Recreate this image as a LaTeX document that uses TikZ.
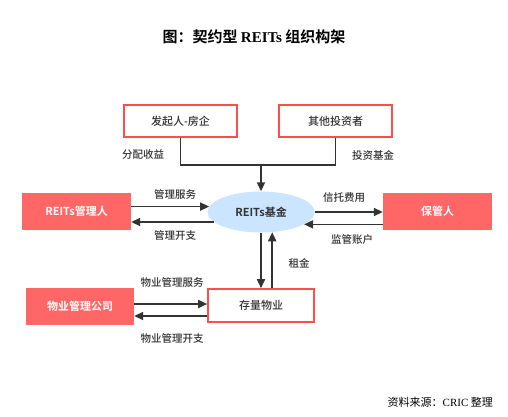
\documentclass[tikz,border=0pt]{standalone}
\usepackage{fontspec}
\setmainfont{Noto Sans CJK SC}[BoldFont={Noto Sans CJK SC Bold}]
\newfontfamily\mediumcjk{Noto Sans CJK SC Medium}
\newfontfamily\serifl{Liberation Serif}
\usetikzlibrary{arrows.meta,shapes.geometric}
\definecolor{boxline}{RGB}{255,77,77}
\definecolor{boxfill}{RGB}{255,102,102}
\definecolor{fundblue}{RGB}{204,229,255}
\definecolor{inkgray}{RGB}{51,51,51}

\tikzset{
  openbox/.style={draw=boxline, line width=1.6pt, fill=white, minimum width=113pt,
    minimum height=32pt, inner sep=0pt, text=inkgray, font=\fontsize{11}{13}\selectfont\mediumcjk},
  solidbox/.style={fill=boxfill, minimum width=109pt, minimum height=37pt, inner sep=0pt,
    text=white, font=\fontsize{11}{13}\selectfont\bfseries},
  fundnode/.style={ellipse, fill=fundblue, minimum width=107pt, minimum height=41pt,
    inner sep=0pt, text=inkgray, font=\fontsize{11}{13}\selectfont\bfseries},
  flowlabel/.style={text=inkgray, inner sep=0pt, font=\fontsize{10.5}{12}\selectfont\mediumcjk},
  flowline/.style={draw=inkgray, line width=1.7pt},
  flowarrow/.style={flowline, -{Triangle[length=9pt,width=8pt]}}
}

\begin{document}
\begin{tikzpicture}[x=1pt, y=-1pt]
  \useasboundingbox (0,0) rectangle (508,416);

  % title
  \node[inner sep=0pt, font=\fontsize{15}{17}\selectfont\bfseries] (title) at (254,37)
    {图：契约型 {\serifl\bfseries REITs} 组织构架};

  % boxes
  \node[openbox] (sponsor) at (180.5,121) {发起人-房企};
  \node[openbox] (investor) at (335.5,121) {其他投资者};
  \node[solidbox] (manager) at (76.5,211.5) {REITs管理人};
  \node[solidbox] (custodian) at (437.5,211.5) {保管人};
  \node[fundnode] (fund) at (261,212) {REITs基金};
  \node[solidbox, minimum width=108pt] (propco) at (80,306.5) {物业管理公司};
  \node[openbox, minimum width=106pt, minimum height=33pt] (asset) at (261,305.5) {存量物业};

  % investors into the fund
  \coordinate (join) at (261,165);
  \draw[flowline] (sponsor.south) |- (join);
  \draw[flowline] (investor.south) |- (join);
  \draw[flowarrow] (join) -- (fund.north);

  % manager
  \draw[flowarrow] (manager.east |- fund.174) -- (fund.174);
  \draw[flowarrow] (fund.192) -- (manager.east |- fund.192);

  % custodian
  \draw[flowarrow] (fund.east) -- (custodian.west |- fund.east);
  \draw[flowarrow] (custodian.west |- fund.344) -- (fund.344);

  % asset
  \draw[flowarrow] (fund.south) -- (asset.north);
  \draw[flowarrow] (fund.-61 |- asset.north) -- (fund.-61);

  % property company
  \draw[flowarrow] (propco.east |- 0,304) -- (asset.west |- 0,304);
  \draw[flowarrow] (asset.west |- 0,316) -- (propco.east |- 0,316);

  % labels
  \node[flowlabel] (lblshare) at (143,155) {分配收益};
  \node[flowlabel] (lblinvest) at (373,155) {投资基金};
  \node[flowlabel] (lblservice) at (175,194) {管理服务};
  \node[flowlabel] (lblcost) at (175,235) {管理开支};
  \node[flowlabel] (lbltrust) at (344,198) {信托费用};
  \node[flowlabel] (lblaccount) at (352,240) {监管账户};
  \node[flowlabel] (lblrent) at (299,263) {租金};
  \node[flowlabel] (lblpservice) at (172,282) {物业管理服务};
  \node[flowlabel] (lblpcost) at (172,338) {物业管理开支};

  % source
  \node[inner sep=0pt, anchor=east, font=\fontsize{11}{13}\selectfont] (source) at (493,402)
    {资料来源：{\serifl CRIC} 整理};
\end{tikzpicture}
\end{document}
